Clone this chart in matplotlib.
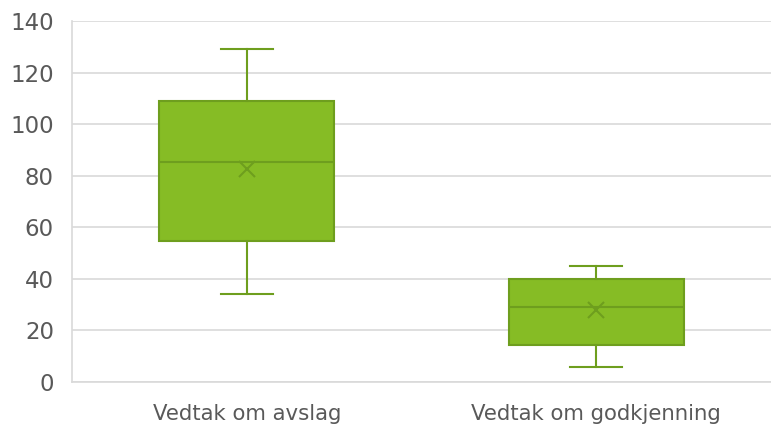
import matplotlib.pyplot as plt

plt.rcParams['font.family'] = ['DejaVu Sans']

categories = ["Vedtak om avslag", "Vedtak om godkjenning"]
whisker_low = [34, 6]
q1 = [54.5, 14.5]
median = [85.5, 29]
q3 = [109, 40]
whisker_high = [129, 45]
means = [82.5, 28]

fill = "#86BC25"
edge = "#6E9E1E"
grid = "#D9D9D9"
text = "#595959"

stats = []
for i in range(len(categories)):
    stats.append({"label": categories[i], "whislo": whisker_low[i], "q1": q1[i],
                  "med": median[i], "q3": q3[i], "whishi": whisker_high[i],
                  "mean": means[i], "fliers": []})

fig = plt.figure(figsize=(7.71, 4.26), dpi=100)
ax = fig.add_axes([72 / 771, 44 / 426, 699 / 771, 361 / 426])

ax.bxp(stats, positions=[1, 2], widths=0.5, patch_artist=True, showmeans=True,
       boxprops=dict(facecolor=fill, edgecolor=edge, linewidth=1.5),
       medianprops=dict(color=edge, linewidth=1.5),
       whiskerprops=dict(color=edge, linewidth=1.5),
       capprops=dict(color=edge, linewidth=1.5),
       capwidths=0.15,
       meanprops=dict(marker="x", markeredgecolor=edge, markersize=12, markeredgewidth=1.5))

ax.set_xlim(0.5, 2.5)
ax.set_ylim(0, 140)
ax.set_yticks(range(0, 141, 20))
ax.yaxis.grid(True, color=grid, linewidth=1.2)
ax.set_axisbelow(True)
for s in ["top", "right"]:
    ax.spines[s].set_visible(False)
ax.spines["left"].set_color(grid)
ax.spines["bottom"].set_color(grid)
ax.spines["left"].set_linewidth(1.2)
ax.spines["bottom"].set_linewidth(1.2)
ax.tick_params(axis="y", length=0, labelsize=16.5, labelcolor=text, pad=13)
ax.tick_params(axis="x", length=0, labelsize=15.3, labelcolor=text, pad=16)

fig.savefig("out.png", dpi=100)
